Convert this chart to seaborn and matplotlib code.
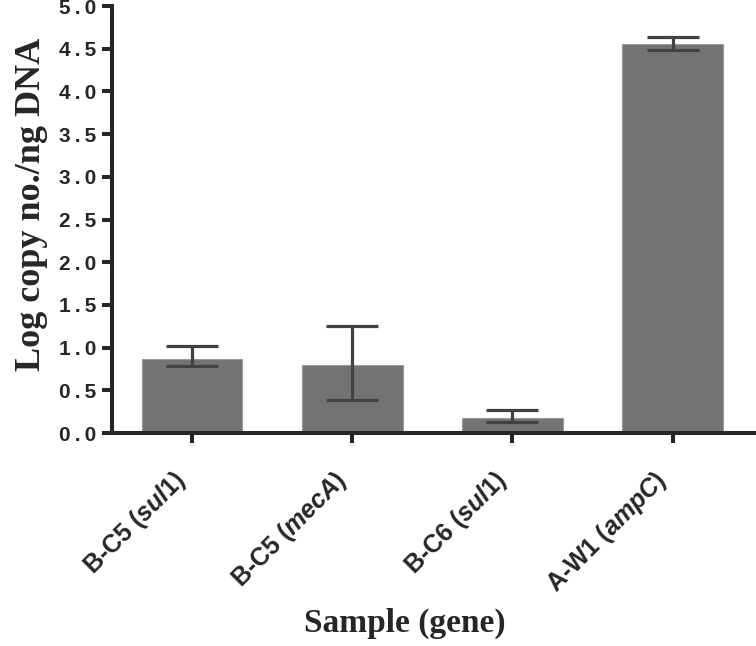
import numpy as np
import pandas as pd
import matplotlib
matplotlib.use('Agg')
import matplotlib.pyplot as plt
import seaborn as sns

# data
samples = ['B-C5 ($\\mathit{sul1}$)', 'B-C5 ($\\mathit{mecA}$)',
           'B-C6 ($\\mathit{sul1}$)', 'A-W1 ($\\mathit{ampC}$)']
log_copy = [0.87, 0.80, 0.17, 4.55]
err_low = [0.09, 0.41, 0.04, 0.07]
err_high = [0.15, 0.45, 0.10, 0.09]
yticks = [0.0, 0.5, 1.0, 1.5, 2.0, 2.5, 3.0, 3.5, 4.0, 4.5, 5.0]

sns.set_style('ticks')
plt.rcParams['font.family'] = ['Liberation Sans', 'DejaVu Sans']
plt.rcParams['mathtext.fontset'] = 'custom'
plt.rcParams['mathtext.it'] = 'Liberation Sans:italic:bold'
plt.rcParams['mathtext.rm'] = 'Liberation Sans:bold'

df = pd.DataFrame({'sample': samples, 'value': log_copy})

fig = plt.figure(figsize=(7.56, 6.46), dpi=100)
ax = fig.add_axes([0.148, 0.3297, 0.852, 0.661])

sns.barplot(data=df, x='sample', y='value', color='#737373', saturation=1,
            width=0.63, errorbar=None, edgecolor='#9a9a9a', linewidth=0.8, ax=ax)
ax.errorbar(np.arange(len(samples)), log_copy, yerr=[err_low, err_high],
            fmt='none', ecolor='#424242', elinewidth=2.3, capsize=19, capthick=2.3,
            zorder=3)

ax.set_ylim(0, 5.0)
ax.set_xlim(-0.5, 3.52)
ax.set_yticks(yticks)
# the original renders digits with wide spacing
ax.set_yticklabels(['\u2009.\u2009'.join(f'{v:.1f}'.split('.')) for v in yticks],
                   fontsize=15, fontweight='bold')
ax.set_xticks(range(len(samples)))
ax.set_xticklabels(samples, rotation=45, ha='right', fontsize=18,
                   fontweight='bold')

sns.despine(ax=ax)
for s in ['left', 'bottom']:
    ax.spines[s].set_linewidth(2.9)
ax.tick_params(axis='both', width=2.9, length=7, direction='out')
ax.tick_params(axis='y', pad=4)
ax.tick_params(axis='x', pad=17)

ax.set_ylabel('Log copy no./ng DNA', family=['Liberation Serif'], fontsize=26,
              fontweight='bold')
ax.yaxis.set_label_coords(-0.099, 0.536)
ax.set_xlabel('Sample (gene)', family=['Liberation Serif'], fontsize=24,
              fontweight='bold')
ax.xaxis.set_label_coords(0.455, -0.41)

fig.savefig('out.png', dpi=100)
